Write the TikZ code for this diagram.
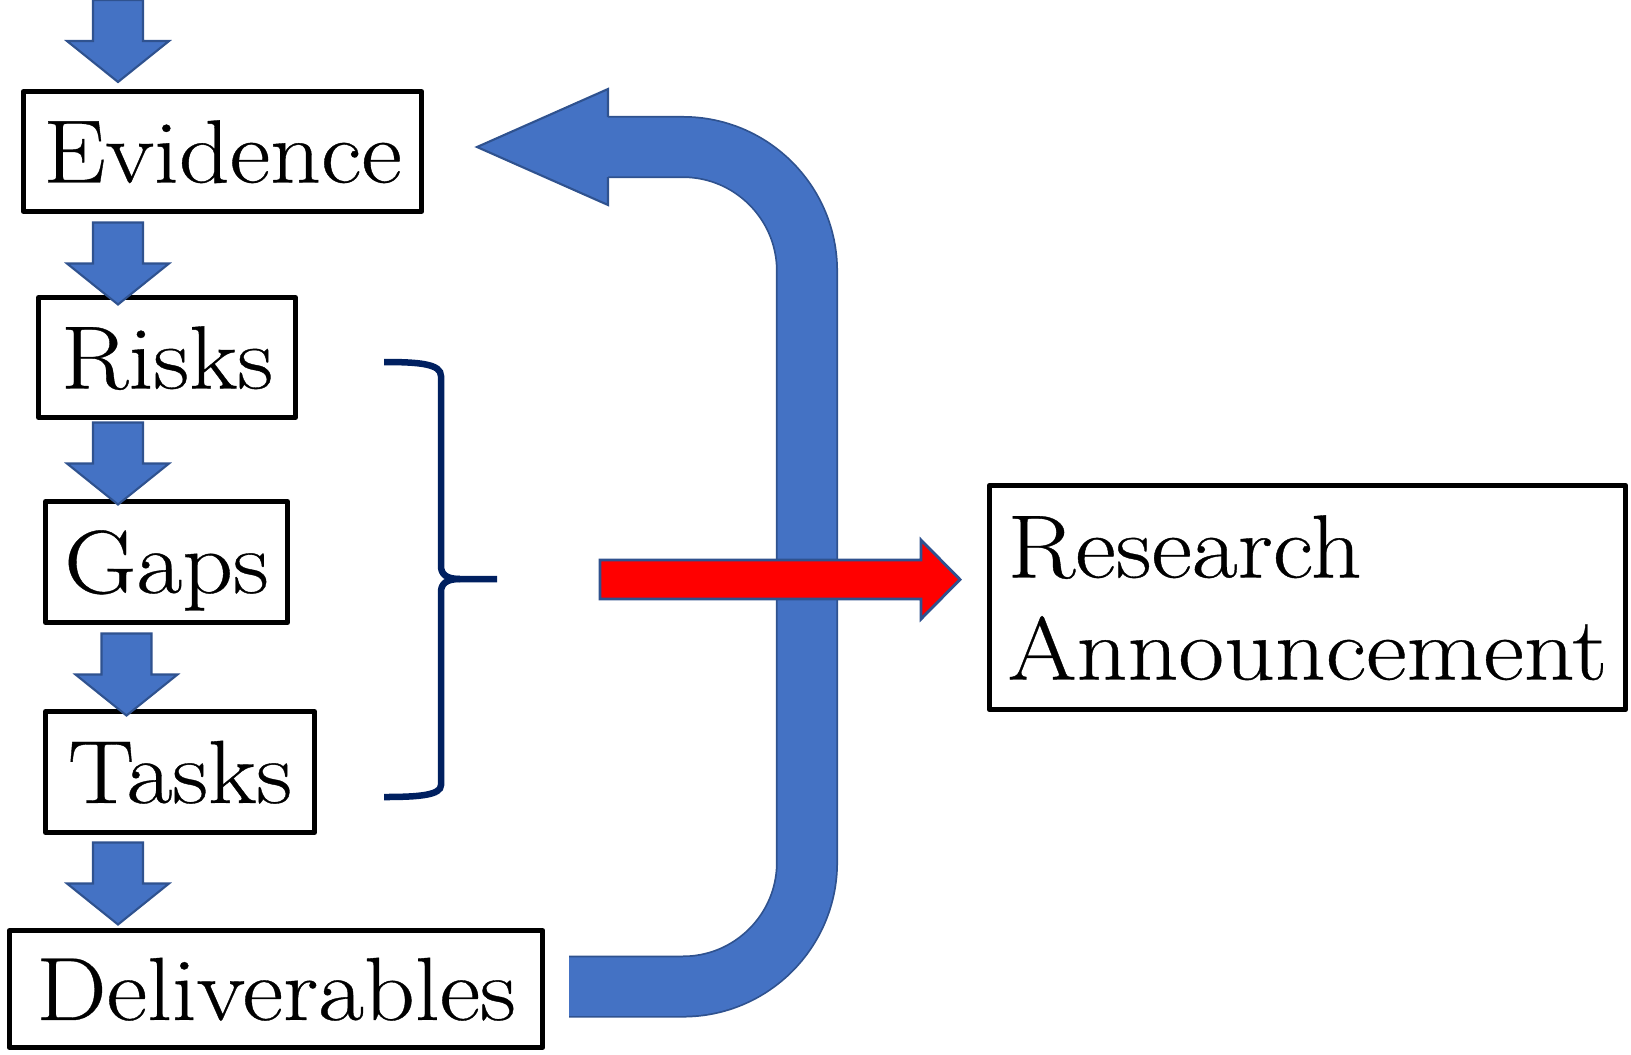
\documentclass[tikz,border=0pt]{standalone}
\usepackage{fontspec}
\setmainfont{Latin Modern Roman}[FakeStretch=1.11, FakeBold=0.4]
\usetikzlibrary{calc}
\definecolor{blfill}{HTML}{4472C4}
\definecolor{blline}{HTML}{2F528F}
\definecolor{navy}{HTML}{002060}
\newcommand\blockdown[1]{\path[smallarr] #1 ++(-25,0) -- ++(50,0) -- ++(0,41) -- ++(26,0) -- ++(-51,41) -- ++(-51,-41) -- ++(26,0) -- cycle;}
\begin{document}
\begin{tikzpicture}[x=0.01cm,y=-0.01cm,
  box/.style={draw=black, line width=1.4pt, line join=round, fill=white, inner sep=0pt,
    text height=17.6pt, text depth=0pt, font=\fontsize{25.5}{29}\selectfont},
  smallarr/.style={fill=blfill, draw=blline, line width=0.6pt, line join=miter},
  bracestyle/.style={draw=navy, line width=0.065cm}]
\useasboundingbox (0,0) rectangle (1631,1054);

% big U-turn arrow
\coordinate (us) at (569,986.5);
\coordinate (uc1) at (807,986.5);
\coordinate (uc2) at (807,147);
\coordinate (ue) at (608,147);
\coordinate (ut) at (477,147);
\draw[blline, line width=0.62cm, rounded corners=1.24cm] (us) -- (uc1) -- (uc2) -- (ue);
\draw[blfill, line width=0.585cm, rounded corners=1.24cm] (us) -- (uc1) -- (uc2) -- (ue);
\path[fill=blfill, draw=blline, line width=0.6pt, line join=miter]
  ($(ue)+(0,-30)$) -- ($(ue)+(0,-58)$) -- (ut) -- ($(ue)+(0,58)$) -- ($(ue)+(0,30)$);

% boxes
\node[box, minimum width=3.98cm, minimum height=1.20cm] (ev) at (222.5,151.5) {Evidence};
\node[box, minimum width=2.57cm, minimum height=1.20cm] (ri) at (167,357.5) {Risks};
\node[box, minimum width=2.42cm, minimum height=1.21cm] (ga) at (166.5,562) {Gaps};
\node[box, minimum width=2.69cm, minimum height=1.21cm] (ta) at (180,772) {Tasks};
\node[box, minimum width=5.33cm, minimum height=1.17cm] (dl) at (276,989) {Deliverables};
\node[box, minimum width=6.36cm, minimum height=2.24cm, align=left, text height=46.6pt, text depth=0pt] (ra) at (1307.5,597.5) {Research\\Announcement};

% small down arrows
\coordinate (colA) at (118,0);
\coordinate (colB) at (126.5,0);
\coordinate (a1) at (118,0);
\coordinate (a2) at ($(ev.south -| colA)+(0,8.5)$);
\coordinate (a3) at ($(ri.south -| colA)+(0,2.5)$);
\coordinate (a4) at ($(ga.south -| colB)+(0,8.5)$);
\coordinate (a5) at ($(ta.south -| colA)+(0,7.5)$);
\blockdown{(a1)}
\blockdown{(a2)}
\blockdown{(a3)}
\blockdown{(a4)}
\blockdown{(a5)}

% brace
\coordinate (bt) at (384,362);
\coordinate (bm) at (497,579);
\coordinate (bb) at (384,797);
\draw[bracestyle] (bt) .. controls (420,362) and (441,364) .. (441,376) -- (441,566)
  .. controls (441,574) and (446,579) .. (460,579) -- (bm);
\draw[bracestyle] (460,579) .. controls (446,579) and (441,584) .. (441,592) -- (441,785)
  .. controls (441,795) and (420,797) .. (bb);

% red arrow
\coordinate (rs) at (600,579.5);
\coordinate (rt) at (960,579.5);
\path[fill=red, draw=blline, line width=0.8pt, line join=miter]
  ($(rs)+(0,-19.5)$) -- ($(rt)+(-39,-19.5)$) -- ($(rt)+(-39,-39.5)$) -- (rt)
  -- ($(rt)+(-39,39.5)$) -- ($(rt)+(-39,19.5)$) -- ($(rs)+(0,19.5)$) -- cycle;
\end{tikzpicture}
\end{document}
